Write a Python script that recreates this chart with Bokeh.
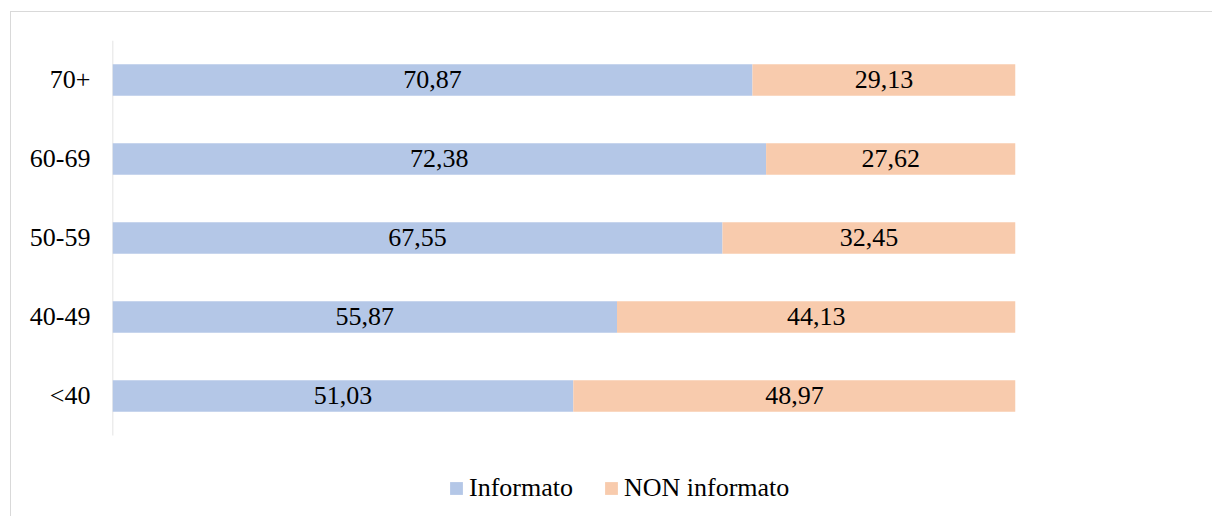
from bokeh.plotting import figure
from bokeh.models import ColumnDataSource, Range1d, Legend, LegendItem, FixedTicker
from bokeh.core.properties import value
from bokeh.embed import file_html
from bokeh.resources import INLINE

# Age groups, bottom to top
categories = ["<40", "40-49", "50-59", "60-69", "70+"]
informato = [51.03, 55.87, 67.55, 72.38, 70.87]
non_informato = [48.97, 44.13, 32.45, 27.62, 29.13]
series_names = ["Informato", "NON informato"]
colors = ["#B4C7E7", "#F8CBAD"]

FONT = "Liberation Serif"


def fmt(v):
    return f"{v:.2f}".replace(".", ",")


pos = list(range(len(categories)))

src = ColumnDataSource(dict(
    pos=pos,
    inf_end=informato,
    non_start=informato,
    non_end=[a + b for a, b in zip(informato, non_informato)],
    inf_mid=[v / 2 for v in informato],
    non_mid=[a + b / 2 for a, b in zip(informato, non_informato)],
    inf_lab=[fmt(v) for v in informato],
    non_lab=[fmt(v) for v in non_informato],
))

# the plot area reaches down to the bottom edge so the legend can sit in it
p = figure(
    width=1202, height=505,
    y_range=Range1d(-1.538, len(categories) - 0.5),
    x_range=(0, 100),
    x_axis_location=None,
    output_backend="svg", toolbar_location=None,
    min_border_left=101, min_border_right=198,
    min_border_top=28, min_border_bottom=0,
)
p.styles = {
    "margin-left": "10px", "margin-top": "11px",
    "border-left": "1px solid #d9d9d9", "border-top": "1px solid #d9d9d9",
}
p.outline_line_color = None
p.xgrid.visible = False
p.ygrid.visible = False

ax = p.yaxis[0]
ax.ticker = FixedTicker(ticks=pos)
ax.major_label_overrides = {i: c for i, c in zip(pos, categories)}
ax.axis_line_color = None
ax.major_tick_line_color = None
ax.minor_tick_line_color = None
ax.major_tick_in = 0
ax.major_tick_out = 0
ax.major_label_standoff = 22
ax.major_label_text_font = FONT
ax.major_label_text_font_size = "26px"
ax.major_label_text_color = "#000000"

# category axis line, spanning only the category bands
p.segment(x0=0, y0=-0.5, x1=0, y1=len(categories) - 0.5,
          line_color="#d9d9d9", line_width=1.5)

r_inf = p.hbar(y="pos", left=0, right="inf_end", height=0.4, source=src,
               fill_color=colors[0], line_color=None)
r_non = p.hbar(y="pos", left="non_start", right="non_end", height=0.4, source=src,
               fill_color=colors[1], line_color=None)

for xcol, tcol in (("inf_mid", "inf_lab"), ("non_mid", "non_lab")):
    p.text(x=xcol, y="pos", text=tcol, source=src, text_align="center",
           text_baseline="middle", text_font=value(FONT),
           text_font_size="26px", text_color="#000000")

legend = Legend(
    items=[LegendItem(label=series_names[0], renderers=[r_inf]),
           LegendItem(label=series_names[1], renderers=[r_non])],
    orientation="horizontal",
    location=(336, 14),
    glyph_width=16, glyph_height=16,
    label_standoff=5, spacing=30, padding=0, margin=0,
    label_text_font=FONT, label_text_font_size="26px",
    label_text_color="#000000",
    border_line_color=None, background_fill_alpha=0,
)
p.add_layout(legend, "center")

open("out.html", "w").write(file_html(p, INLINE))
